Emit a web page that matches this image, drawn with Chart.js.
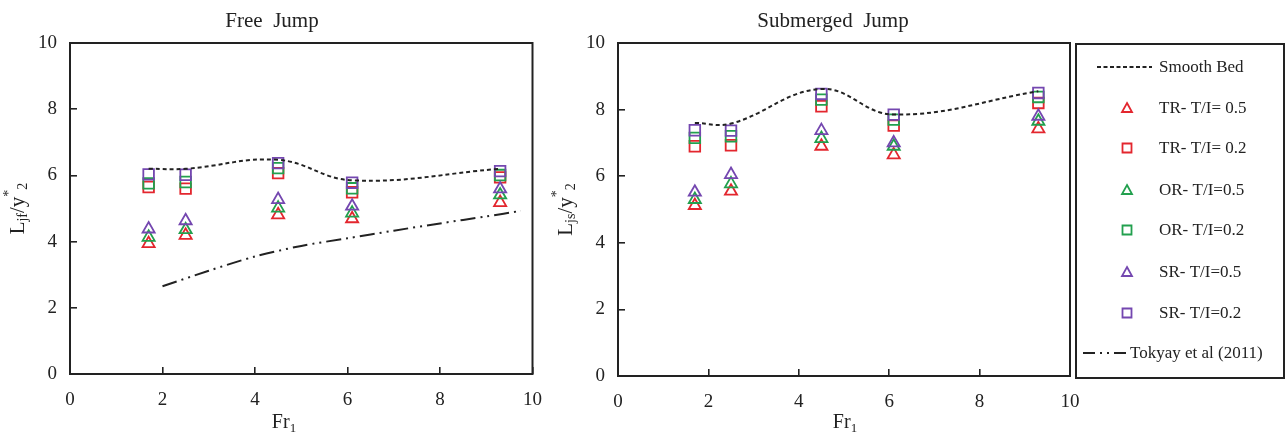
<!DOCTYPE html>
<html>
<head>
<meta charset="utf-8">
<title>Free and submerged jump</title>
<script src="https://cdn.jsdelivr.net/npm/chart.js@4.4.0/dist/chart.umd.min.js"></script>
<style>
    html, body { margin: 0; padding: 0; background: #fff; }
    #wrap { position: relative; width: 1288px; height: 439px; }
    #freeChart { position: absolute; left: 0; top: 0; }
    #subChart { position: absolute; left: 548px; top: 0; }
</style>
</head>
<body>
<div id="wrap">
    <canvas id="freeChart" width="564" height="439"></canvas>
    <canvas id="subChart" width="740" height="439"></canvas>
</div>
<script>
// Froude numbers of the tests
var froude = [1.7, 2.5, 4.5, 6.1, 9.3];

// Free jump, L_jf / y*2
var freeSmooth = [6.2, 6.2, 6.47, 5.85, 6.2];
var freeTR05 = [3.94, 4.19, 4.81, 4.69, 5.18];
var freeTR02 = [5.65, 5.6, 6.07, 5.49, 5.94];
var freeOR05 = [4.13, 4.36, 5.01, 4.86, 5.41];
var freeOR02 = [5.76, 5.8, 6.22, 5.61, 6.01];
var freeSR05 = [4.38, 4.63, 5.27, 5.07, 5.59];
var freeSR02 = [6.03, 6.02, 6.37, 5.78, 6.13];

// Tokyay et al (2011) curve
var tokyayFr = [2.0, 3, 4, 5, 6, 7, 8, 9, 9.75];
var tokyayL = [2.65, 3.12, 3.55, 3.87, 4.1, 4.33, 4.55, 4.76, 4.93];

// Submerged jump, L_js / y*2
var subSmooth = [7.6, 7.58, 8.62, 7.85, 8.55];
var subTR05 = [5.12, 5.55, 6.9, 6.64, 7.42];
var subTR02 = [6.9, 6.93, 8.1, 7.52, 8.2];
var subOR05 = [5.3, 5.77, 7.13, 6.9, 7.65];
var subOR02 = [7.15, 7.2, 8.3, 7.7, 8.38];
var subSR05 = [5.52, 6.05, 7.37, 7.0, 7.8];
var subSR02 = [7.38, 7.37, 8.47, 7.85, 8.5];

var axisTicks = [0, 2, 4, 6, 8, 10];
var legendLabels = ['Smooth Bed', 'TR- T/I= 0.5', 'TR- T/I= 0.2', 'OR- T/I=0.5',
    'OR- T/I=0.2', 'SR- T/I=0.5', 'SR- T/I=0.2', 'Tokyay et al (2011)'];

var SERIF = "'Liberation Serif', 'Times New Roman', serif";
var INK = '#222';
var RED = '#e3262e';
var GREEN = '#22a04e';
var PURPLE = '#7447b0';

function pts(xs, ys) {
    return xs.map(function (x, i) { return { x: x, y: ys[i] }; });
}

function markerSet(label, xs, ys, color, style, order) {
    return {
        label: label,
        data: pts(xs, ys),
        showLine: false,
        pointStyle: style,
        pointRadius: style === 'rect' ? 7.5 : 7,
        borderColor: color,
        backgroundColor: 'rgba(0,0,0,0)',
        pointBorderWidth: 1.8,
        order: order
    };
}

function smoothSet(ys) {
    return {
        label: legendLabels[0],
        data: pts(froude, ys),
        showLine: true,
        tension: 0.4,
        borderColor: INK,
        borderWidth: 2,
        borderDash: [4, 3],
        pointRadius: 0,
        order: 0
    };
}

function drawRuns(ctx, runs, cx, cy) {
    var total = 0;
    runs.forEach(function (r) {
        ctx.font = r.s + 'px ' + SERIF;
        r.w = ctx.measureText(r.t).width;
        total += r.w;
    });
    var x = cx - total / 2;
    ctx.textAlign = 'left';
    ctx.textBaseline = 'middle';
    runs.forEach(function (r) {
        ctx.font = r.s + 'px ' + SERIF;
        ctx.fillText(r.t, x, cy + r.dy);
        x += r.w;
    });
}

var framePlugin = {
    id: 'frame',
    afterDraw: function (chart, args, opts) {
        var ctx = chart.ctx;
        var a = chart.chartArea;
        ctx.save();
        ctx.strokeStyle = INK;
        ctx.lineWidth = 2;
        ctx.strokeRect(a.left, a.top, a.right - a.left, a.bottom - a.top);

        ctx.fillStyle = INK;
        ctx.font = '21px ' + SERIF;
        ctx.textAlign = 'center';
        ctx.textBaseline = 'middle';
        ctx.fillText(opts.title, opts.titleX, 21);

        drawRuns(ctx, [
            { t: 'Fr', s: 20, dy: 0 },
            { t: '1', s: 13, dy: 6 }
        ], opts.frX, 423);

        ctx.translate(18, (a.top + a.bottom) / 2);
        ctx.rotate(-Math.PI / 2);
        drawRuns(ctx, [
            { t: 'L', s: 21, dy: 0 },
            { t: opts.sub, s: 14, dy: 5 },
            { t: '/y', s: 21, dy: 0 },
            { t: '*', s: 14, dy: -9 },
            { t: '2', s: 14, dy: 5 }
        ], 0, 0);
        ctx.restore();
    }
};

var legendPlugin = {
    id: 'sideLegend',
    afterDraw: function (chart, args, opts) {
        if (!opts.show) {
            return;
        }
        var ctx = chart.ctx;
        var left = chart.chartArea.right + 6;
        var right = chart.width - 4;
        ctx.save();
        ctx.strokeStyle = INK;
        ctx.lineWidth = 2;
        ctx.strokeRect(left, 44, right - left, 334);

        var rows = [67, 108, 148, 190, 230, 272, 313, 353];
        var markers = [null, ['triangle', RED], ['rect', RED], ['triangle', GREEN],
            ['rect', GREEN], ['triangle', PURPLE], ['rect', PURPLE], null];
        ctx.font = '17px ' + SERIF;
        ctx.textBaseline = 'middle';
        ctx.textAlign = 'left';

        rows.forEach(function (y, i) {
            var mx = left + 51;
            var tx = left + 83;
            var m = markers[i];
            ctx.lineWidth = 1.8;
            if (i === 0) {
                ctx.strokeStyle = INK;
                ctx.setLineDash([4, 2.5]);
                ctx.beginPath();
                ctx.moveTo(left + 21, y);
                ctx.lineTo(left + 76, y);
                ctx.stroke();
                ctx.setLineDash([]);
            } else if (i === 7) {
                ctx.strokeStyle = INK;
                ctx.lineWidth = 2;
                ctx.setLineDash([12, 5, 2, 5, 2, 5]);
                ctx.beginPath();
                ctx.moveTo(left + 7, y);
                ctx.lineTo(left + 50, y);
                ctx.stroke();
                ctx.setLineDash([]);
                tx = left + 54;
            } else {
                ctx.strokeStyle = m[1];
                ctx.beginPath();
                if (m[0] === 'triangle') {
                    ctx.moveTo(mx, y - 5);
                    ctx.lineTo(mx + 5, y + 4);
                    ctx.lineTo(mx - 5, y + 4);
                    ctx.closePath();
                } else {
                    ctx.rect(mx - 4.5, y - 4.5, 9, 9);
                }
                ctx.stroke();
            }
            ctx.fillStyle = INK;
            ctx.fillText(legendLabels[i], tx, y + 1);
        });
        ctx.restore();
    }
};

function axes(xHeight) {
    return {
        x: {
            type: 'linear',
            min: 0,
            max: 10,
            afterBuildTicks: function (scale) {
                scale.ticks = axisTicks.map(function (v) { return { value: v }; });
            },
            afterFit: function (scale) { scale.height = xHeight; },
            border: { display: false },
            grid: { drawOnChartArea: false, drawTicks: true, tickLength: -7, color: INK, lineWidth: 1.6 },
            ticks: { color: INK, padding: 22, font: { family: SERIF, size: 19 } }
        },
        y: {
            type: 'linear',
            min: 0,
            max: 10,
            afterBuildTicks: function (scale) {
                scale.ticks = axisTicks.map(function (v) { return { value: v }; });
            },
            afterFit: function (scale) { scale.width = 70; },
            border: { display: false },
            grid: { drawOnChartArea: false, drawTicks: true, tickLength: -7, color: INK, lineWidth: 1.6 },
            ticks: { color: INK, padding: 20, font: { family: SERIF, size: 19 } }
        }
    };
}

function baseOptions(title, titleX, frX, sub, padRight, xHeight, showLegend) {
    return {
        responsive: false,
        animation: false,
        devicePixelRatio: 1,
        layout: { padding: { top: 43, right: padRight, left: 0, bottom: 0 } },
        plugins: {
            legend: { display: false },
            tooltip: { enabled: false },
            frame: { title: title, titleX: titleX, frX: frX, sub: sub },
            sideLegend: { show: showLegend }
        },
        scales: axes(xHeight)
    };
}

new Chart(document.getElementById('freeChart'), {
    type: 'scatter',
    data: {
        datasets: [
            smoothSet(freeSmooth),
            {
                label: legendLabels[7],
                data: pts(tokyayFr, tokyayL),
                showLine: true,
                tension: 0.3,
                borderColor: INK,
                borderWidth: 2,
                borderDash: [15, 5, 2, 5, 2, 5],
                pointRadius: 0,
                order: 0
            },
            markerSet(legendLabels[1], froude, freeTR05, RED, 'triangle', 3),
            markerSet(legendLabels[2], froude, freeTR02, RED, 'rect', 3),
            markerSet(legendLabels[3], froude, freeOR05, GREEN, 'triangle', 2),
            markerSet(legendLabels[4], froude, freeOR02, GREEN, 'rect', 2),
            markerSet(legendLabels[5], froude, freeSR05, PURPLE, 'triangle', 1),
            markerSet(legendLabels[6], froude, freeSR02, PURPLE, 'rect', 1)
        ]
    },
    options: baseOptions('Free  Jump', 272, 284, 'jf', 0, 65, false),
    plugins: [framePlugin, legendPlugin]
});

new Chart(document.getElementById('subChart'), {
    type: 'scatter',
    data: {
        datasets: [
            smoothSet(subSmooth),
            markerSet(legendLabels[1], froude, subTR05, RED, 'triangle', 3),
            markerSet(legendLabels[2], froude, subTR02, RED, 'rect', 3),
            markerSet(legendLabels[3], froude, subOR05, GREEN, 'triangle', 2),
            markerSet(legendLabels[4], froude, subOR02, GREEN, 'rect', 2),
            markerSet(legendLabels[5], froude, subSR05, PURPLE, 'triangle', 1),
            markerSet(legendLabels[6], froude, subSR02, PURPLE, 'rect', 1)
        ]
    },
    options: baseOptions('Submerged  Jump', 285, 297, 'js', 218, 63, true),
    plugins: [framePlugin, legendPlugin]
});
</script>
</body>
</html>
